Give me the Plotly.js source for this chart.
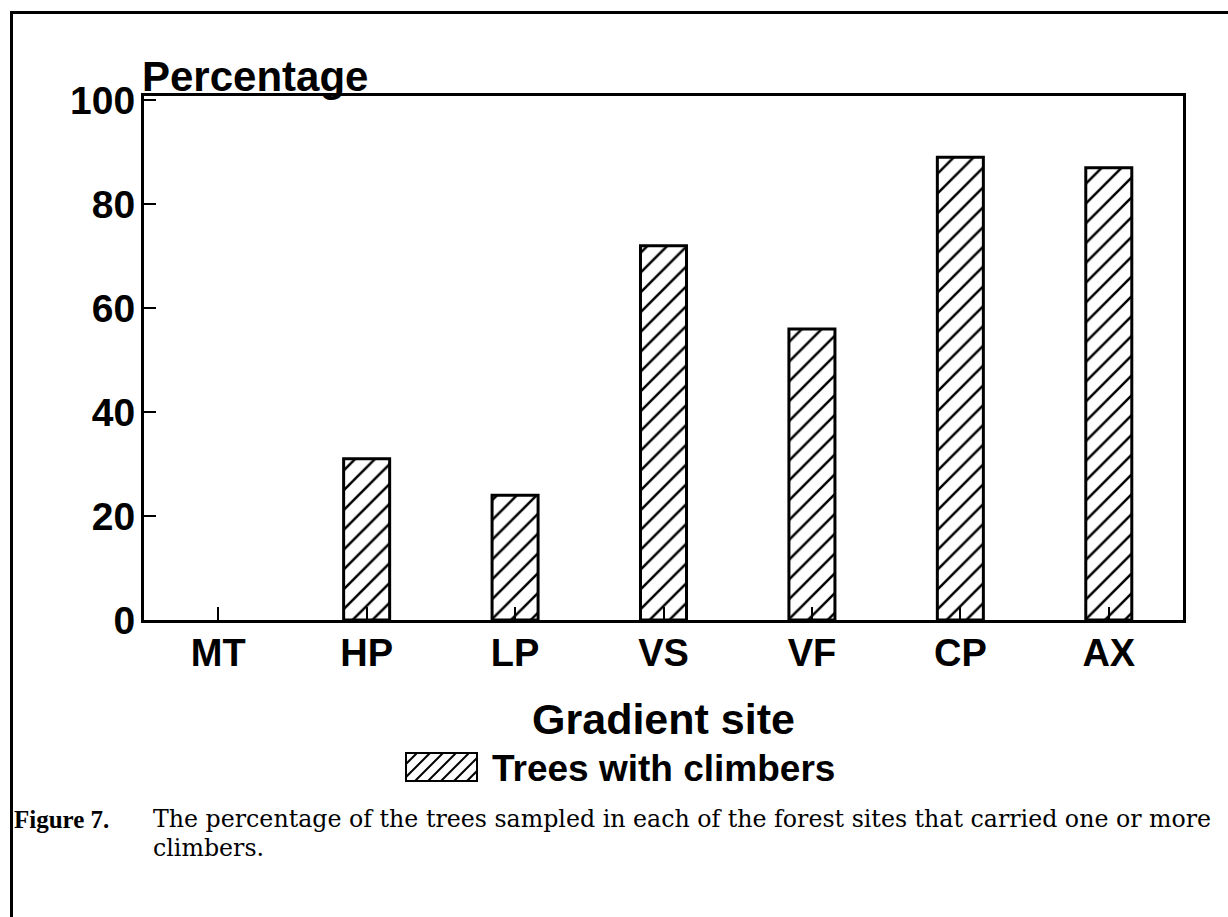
<!DOCTYPE html>
<html>
<head>
<meta charset="utf-8">
<script src="https://cdn.plot.ly/plotly-3.0.1.min.js"></script>
<style>
  html, body { margin: 0; padding: 0; background: #fff; }
  #wrap { position: relative; width: 1228px; height: 917px; overflow: hidden; }
  #chart { width: 1228px; height: 917px; }
  #frame { position: absolute; left: 10px; top: 11px; right: -5px; bottom: -5px;
           border-left: 3px solid #000; border-top: 3px solid #000; pointer-events: none; }
</style>
</head>
<body>
<div id="wrap">
  <div id="chart"></div>
  <div id="frame"></div>
</div>
<script>
// ---- data ----
const sites = ["MT", "HP", "LP", "VS", "VF", "CP", "AX"];
const pctWithClimbers = [0, 31, 24, 72, 56, 89, 87];
const yTicks = [0, 20, 40, 60, 80, 100];
const seriesName = "Trees with climbers";
const xTitle = "Gradient site";
const yTitle = "Percentage";
const figLabel = "Figure 7.";
const captionLine1 = "The percentage of the trees sampled in each of the forest sites that carried one or more";
const captionLine2 = "climbers.";

const sansBold = { family: "Liberation Sans, Arial, sans-serif", color: "#000", weight: "bold" };
const serif = "Liberation Serif, Times New Roman, serif";
const wideSerif = "DejaVu Serif, Liberation Serif, serif";

const trace = {
  type: "bar",
  x: sites,
  y: pctWithClimbers,
  name: seriesName,
  width: 0.31,
  marker: {
    color: "#fff",
    line: { color: "#000", width: pctWithClimbers.map(v => (v > 0 ? 3 : 0)) },
    pattern: { shape: "/", fgcolor: "#000", bgcolor: "#fff", size: 14, solidity: 0.18, fillmode: "replace" }
  },
  showlegend: false,
  hoverinfo: "x+y"
};

// legend swatch image (hatched box)
function hatchSvg(w, h) {
  let lines = "";
  for (let k = -h; k < w + h; k += 13) {
    lines += `<line x1="${k}" y1="${h}" x2="${k + h}" y2="0" stroke="black" stroke-width="2"/>`;
  }
  return `<svg xmlns="http://www.w3.org/2000/svg" width="${w}" height="${h}" viewBox="0 0 ${w} ${h}">` +
    `<rect x="0" y="0" width="${w}" height="${h}" fill="white"/>` + lines +
    `<rect x="1" y="1" width="${w - 2}" height="${h - 2}" fill="none" stroke="black" stroke-width="2"/></svg>`;
}
const swatchUri = "data:image/svg+xml;charset=utf-8," + encodeURIComponent(hatchSvg(73, 30));

const W = 1228, H = 917, ML = 144, MR = 45, MT = 96, MB = 297;
const PW = W - ML - MR, PH = H - MT - MB;
const px = v => (v - ML) / PW;
const py = v => (H - MB - v) / PH;

const layout = {
  width: W, height: H,
  margin: { l: ML, r: MR, t: MT, b: MB },
  paper_bgcolor: "#fff",
  plot_bgcolor: "#fff",
  title: {
    text: yTitle,
    font: Object.assign({ size: 42 }, sansBold),
    x: 142 / W, xanchor: "left", xref: "container",
    y: 1 - 76 / H, yanchor: "middle", yref: "container"
  },
  xaxis: {
    type: "category",
    range: [-0.5, 6.5],
    showgrid: false,
    zeroline: false,
    showline: true, linecolor: "#000", linewidth: 3, mirror: true,
    ticks: "inside", ticklen: 13, tickwidth: 2, tickcolor: "#000",
    tickfont: Object.assign({ size: 38 }, sansBold),
    ticklabelstandoff: -3,
    title: { text: xTitle, font: Object.assign({ size: 43 }, sansBold), standoff: 32 },
    automargin: false
  },
  yaxis: {
    range: [0, 100.8],
    tickvals: yTicks,
    showgrid: false,
    zeroline: false,
    showline: true, linecolor: "#000", linewidth: 3, mirror: true,
    ticks: "inside", ticklen: 12, tickwidth: 2, tickcolor: "#000",
    tickfont: Object.assign({ size: 39 }, sansBold),
    ticklabelstandoff: -2,
    automargin: false
  },
  images: [{
    source: swatchUri, xref: "paper", yref: "paper",
    x: px(405), y: py(752), sizex: 73 / PW, sizey: 30 / PH,
    xanchor: "left", yanchor: "top", sizing: "stretch", layer: "above"
  }],
  annotations: [
    { text: seriesName, xref: "paper", yref: "paper", x: px(490), y: py(768),
      xanchor: "left", yanchor: "middle", showarrow: false,
      font: Object.assign({ size: 37 }, sansBold) },
    { text: "<b>" + figLabel + "</b>", xref: "paper", yref: "paper", x: px(12), y: py(819),
      xanchor: "left", yanchor: "middle", showarrow: false,
      font: { family: serif, size: 25, color: "#000" } },
    { text: captionLine1, xref: "paper", yref: "paper", x: px(151), y: py(819),
      xanchor: "left", yanchor: "middle", showarrow: false,
      font: { family: wideSerif, size: 23.7, color: "#000" } },
    { text: captionLine2, xref: "paper", yref: "paper", x: px(151), y: py(848),
      xanchor: "left", yanchor: "middle", showarrow: false,
      font: { family: wideSerif, size: 23.7, color: "#000" } }
  ],
  showlegend: false
};

Plotly.newPlot("chart", [trace], layout, { displayModeBar: false, staticPlot: true });
</script>
</body>
</html>
